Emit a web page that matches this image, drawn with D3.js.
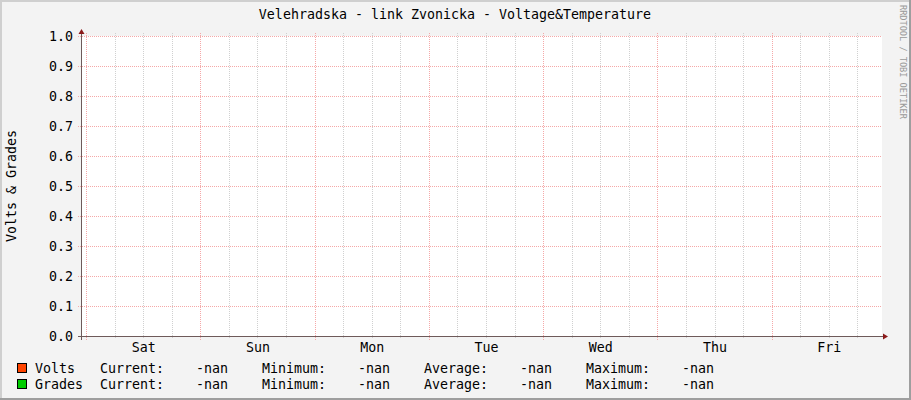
<!DOCTYPE html>
<html>
<head>
<meta charset="utf-8">
<script src="https://cdn.jsdelivr.net/npm/d3@7"></script>
<style>
  body { margin: 0; background: #fff; }
  text { font-family: "DejaVu Sans Mono", monospace; }
</style>
</head>
<body>
<svg id="chart" width="911" height="400"></svg>
<script>
// chart values
var title = "Velehradska - link Zvonicka - Voltage&Temperature";
var yLabel = "Volts & Grades";
var yTicks = [0, 0.1, 0.2, 0.3, 0.4, 0.5, 0.6, 0.7, 0.8, 0.9, 1.0];
var dayLabels = ["Sat", "Sun", "Mon", "Tue", "Wed", "Thu", "Fri"];
var seriesNames = ["Volts", "Grades"];
var seriesColors = ["#ff4400", "#00cc00"];
var statLabels = ["Current:", "Minimum:", "Average:", "Maximum:"];
var voltsStats = ["-nan", "-nan", "-nan", "-nan"];
var gradesStats = ["-nan", "-nan", "-nan", "-nan"];
// no measured points in this week, all nan
var voltsValues = [];
var gradesValues = [];

var W = 911, H = 400;
var gLeft = 81, gRight = 881, gTop = 36, gBottom = 336;

var start = new Date(2024, 0, 5, 22, 57);
var end = d3.timeDay.offset(start, 7);

var svg = d3.select("#chart");

// background + 3d border like rrdtool
svg.append("rect").attr("width", W).attr("height", H).attr("fill", "#f3f3f3");
svg.append("rect").attr("x", 0).attr("y", 0).attr("width", W).attr("height", 2).attr("fill", "#cfcfcf");
svg.append("rect").attr("x", 0).attr("y", 0).attr("width", 2).attr("height", H).attr("fill", "#cfcfcf");
svg.append("rect").attr("x", 0).attr("y", H - 2).attr("width", W).attr("height", 2).attr("fill", "#9e9e9e");
svg.append("rect").attr("x", W - 2).attr("y", 0).attr("width", 2).attr("height", H).attr("fill", "#9e9e9e");

var x = d3.scaleTime().domain([start, end]).range([gLeft, gRight]);
var y = d3.scaleLinear().domain([0, 1]).range([gBottom, gTop]);

svg.append("rect")
    .attr("x", gLeft).attr("y", gTop)
    .attr("width", gRight - gLeft + 1).attr("height", gBottom - gTop)
    .attr("fill", "#ffffff");

var days = d3.timeDay.range(start, end);
var sixHours = d3.timeHour.every(6).range(start, end).filter(function(d) { return d.getHours() != 0; });

// minor vertical grid
svg.append("g").selectAll("line").data(sixHours).join("line")
    .attr("x1", function(d) { return Math.round(x(d)) + 0.5; })
    .attr("x2", function(d) { return Math.round(x(d)) + 0.5; })
    .attr("y1", gTop - 3).attr("y2", gBottom + 2)
    .attr("stroke", "#d0d0d0").attr("stroke-dasharray", "1,1");

// major vertical grid (midnights)
svg.append("g").selectAll("line").data(days).join("line")
    .attr("x1", function(d) { return Math.round(x(d)) + 0.5; })
    .attr("x2", function(d) { return Math.round(x(d)) + 0.5; })
    .attr("y1", gTop - 3).attr("y2", gBottom + 4)
    .attr("stroke", "#f5a8a8").attr("stroke-dasharray", "1,1");

// horizontal grid
svg.append("g").selectAll("line").data(yTicks).join("line")
    .attr("x1", gLeft - 3).attr("x2", gRight + 1)
    .attr("y1", function(d) { return Math.round(y(d)) + 0.5; })
    .attr("y2", function(d) { return Math.round(y(d)) + 0.5; })
    .attr("stroke", "#f5a8a8").attr("stroke-dasharray", "1,1");

// data lines (empty: all values nan)
var line = d3.line().defined(function(d) { return !isNaN(d.v); })
    .x(function(d) { return x(d.t); }).y(function(d) { return y(d.v); });
svg.append("path").datum(voltsValues).attr("d", line).attr("fill", "none").attr("stroke", seriesColors[0]);
svg.append("path").datum(gradesValues).attr("d", line).attr("fill", "none").attr("stroke", seriesColors[1]);

// y axis labels
var yAxis = svg.append("g")
    .attr("transform", "translate(" + (gLeft - 8) + ",0)")
    .call(d3.axisLeft(y).tickValues(yTicks).tickFormat(d3.format(".1f")).tickSize(0).tickPadding(0));
yAxis.select(".domain").remove();
yAxis.selectAll("text").attr("font-size", "13.3px").attr("fill", "#000")
    .attr("font-family", "DejaVu Sans Mono").attr("dy", "0.36em");

// x axis labels at noon
var noons = days.map(function(d) { return d3.timeHour.offset(d, 12); });
var xAxis = svg.append("g")
    .attr("transform", "translate(0," + (gBottom + 7) + ")")
    .call(d3.axisBottom(x).tickValues(noons).tickSize(0).tickPadding(0)
        .tickFormat(function(d, i) { return dayLabels[i]; }));
xAxis.select(".domain").remove();
xAxis.selectAll("text").attr("font-size", "13.3px").attr("fill", "#000")
    .attr("font-family", "DejaVu Sans Mono").attr("dy", "0.71em");

// axis lines and arrows
svg.append("line").attr("x1", gLeft + 0.5).attr("x2", gLeft + 0.5)
    .attr("y1", gTop - 4).attr("y2", gBottom + 4)
    .attr("stroke", "#6e5a5a");
svg.append("line").attr("x1", gLeft - 3).attr("x2", gRight + 4)
    .attr("y1", gBottom + 0.5).attr("y2", gBottom + 0.5)
    .attr("stroke", "#6e5a5a");
svg.append("path").attr("d", "M" + (gLeft - 2.5) + "," + (gTop - 2) + "L" + (gLeft + 3.5) + "," + (gTop - 2) + "L" + (gLeft + 0.5) + "," + (gTop - 7) + "Z")
    .attr("fill", "#8b1a1a");
svg.append("path").attr("d", "M" + (gRight + 2) + "," + (gBottom - 2.5) + "L" + (gRight + 2) + "," + (gBottom + 3.5) + "L" + (gRight + 7) + "," + (gBottom + 0.5) + "Z")
    .attr("fill", "#8b1a1a");

// title
svg.append("text").attr("x", 455).attr("y", 19).attr("text-anchor", "middle")
    .attr("font-size", "13.3px").text(title);

// y label
svg.append("text").attr("transform", "translate(16,186) rotate(-90)")
    .attr("text-anchor", "middle").attr("font-size", "13.3px").text(yLabel);

// watermark
svg.append("text").attr("transform", "translate(900,5) rotate(90)")
    .attr("font-size", "8.6px").attr("fill", "#999").text("RRDTOOL / TOBI OETIKER");

// legend
var statX = [100, 262, 424, 586];
var allStats = [voltsStats, gradesStats];
seriesNames.forEach(function(name, i) {
    var by = 373 + i * 16;
    svg.append("rect").attr("x", 17.5).attr("y", by - 9.5).attr("width", 9).attr("height", 9)
        .attr("fill", seriesColors[i]).attr("stroke", "#000");
    svg.append("text").attr("x", 35).attr("y", by).attr("font-size", "13.3px").text(name);
    statLabels.forEach(function(lbl, j) {
        svg.append("text").attr("x", statX[j]).attr("y", by).attr("font-size", "13.3px").text(lbl);
        svg.append("text").attr("x", statX[j] + 128).attr("y", by).attr("text-anchor", "end")
            .attr("font-size", "13.3px").text(allStats[i][j]);
    });
});
</script>
</body>
</html>
